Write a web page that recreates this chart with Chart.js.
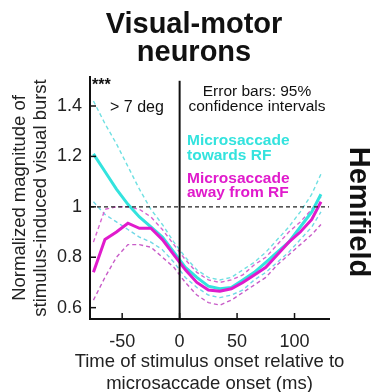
<!DOCTYPE html>
<html>
<head>
<meta charset="utf-8">
<script src="https://cdn.jsdelivr.net/npm/chart.js@4.4.1/dist/chart.umd.min.js"></script>
<style>
  html, body { margin: 0; padding: 0; background: #fff; }
</style>
</head>
<body>
<canvas id="burstChart" width="371" height="392"></canvas>
<script>
// waktu stimulus relatif terhadap onset microsaccade (ms)
const timeMs = [-75, -65, -55, -45, -35, -25, -15, -5, 5, 15, 25, 35, 45, 55, 65, 75, 85, 95, 105, 115, 123];

// microsaccade towards RF (cyan)
const towardsMean  = [1.21, 1.14, 1.07, 1.01, 0.96, 0.92, 0.88, 0.82, 0.76, 0.72, 0.685, 0.675, 0.68, 0.71, 0.74, 0.78, 0.82, 0.86, 0.92, 0.98, 1.05];
const towardsUpper = [1.42, 1.33, 1.25, 1.16, 1.07, 0.99, 0.93, 0.86, 0.80, 0.75, 0.72, 0.71, 0.72, 0.75, 0.78, 0.82, 0.87, 0.92, 0.98, 1.05, 1.13];
const towardsLower = [1.02, 0.97, 0.94, 0.91, 0.88, 0.86, 0.83, 0.78, 0.72, 0.68, 0.65, 0.64, 0.65, 0.67, 0.71, 0.74, 0.78, 0.82, 0.87, 0.92, 0.98];

// microsaccade away from RF (magenta)
const awayMean  = [0.74, 0.87, 0.90, 0.935, 0.915, 0.915, 0.87, 0.81, 0.75, 0.70, 0.67, 0.665, 0.675, 0.70, 0.73, 0.76, 0.81, 0.86, 0.90, 0.95, 1.02];
const awayUpper = [0.86, 0.99, 1.00, 1.00, 0.99, 0.96, 0.91, 0.85, 0.79, 0.74, 0.71, 0.70, 0.71, 0.73, 0.77, 0.80, 0.85, 0.90, 0.94, 0.99, 1.04];
const awayLower = [0.63, 0.72, 0.80, 0.85, 0.85, 0.84, 0.80, 0.76, 0.70, 0.65, 0.62, 0.61, 0.63, 0.66, 0.69, 0.72, 0.77, 0.81, 0.85, 0.89, 0.93];

// sumbu
const xRange = [-78, 130];
const yRange = [0.555, 1.515];
const xTicks = [-50, 0, 50, 100];
const yTicks = [0.6, 0.8, 1, 1.2, 1.4];
const referenceLevel = 1;
const zeroLineTop = 1.5;

const FONT = "'Liberation Sans', Arial, Helvetica, sans-serif";
Chart.defaults.font.family = FONT;
Chart.defaults.color = "#222";

function toPoints(values) {
  return timeMs.map((t, i) => ({ x: t, y: values[i] }));
}

function meanSet(label, values, color) {
  return {
    label: label,
    data: toPoints(values),
    borderColor: color,
    borderWidth: 3,
    pointRadius: 0,
    tension: 0,
    fill: false,
  };
}

function bandSet(label, values, color) {
  return {
    label: label,
    data: toPoints(values),
    borderColor: color,
    borderWidth: 1.4,
    borderDash: [4, 3],
    pointRadius: 0,
    tension: 0,
    fill: false,
  };
}

// teks tambahan dan tick ke dalam
const annotationsPlugin = {
  id: "annotations",
  afterDraw(chart) {
    const ctx = chart.ctx;
    const { left, right, bottom } = chart.chartArea;
    const xs = chart.scales.x;
    const ys = chart.scales.y;
    ctx.save();

    // tick marks ke dalam
    ctx.strokeStyle = "#111";
    ctx.lineWidth = 1.5;
    xs.ticks.forEach((t) => {
      const px = xs.getPixelForValue(t.value);
      ctx.beginPath();
      ctx.moveTo(px, bottom);
      ctx.lineTo(px, bottom - 6);
      ctx.stroke();
    });
    ys.ticks.forEach((t) => {
      const py = ys.getPixelForValue(t.value);
      ctx.beginPath();
      ctx.moveTo(left, py);
      ctx.lineTo(left + 6, py);
      ctx.stroke();
    });

    // judul sumbu x (digambar sendiri supaya tidak dipersempit)
    ctx.fillStyle = "#222";
    ctx.textAlign = "center";
    ctx.textBaseline = "alphabetic";
    ctx.font = "18.5px " + FONT;
    const cx = (left + right) / 2;
    ctx.fillText("Time of stimulus onset relative to", cx, 367);
    ctx.fillText("microsaccade onset (ms)", cx, 388.5);

    // judul
    ctx.fillStyle = "#111";
    ctx.font = "bold 29px " + FONT;
    ctx.fillText("Visual-motor", 194, 33);
    ctx.fillText("neurons", 194, 61);

    // Hemifield (diputar)
    ctx.save();
    ctx.translate(358, 212);
    ctx.rotate(Math.PI / 2);
    ctx.textBaseline = "middle";
    ctx.font = "bold 29px " + FONT;
    ctx.fillText("Hemifield", 0, 0);
    ctx.restore();

    // keterangan
    ctx.textAlign = "left";
    ctx.font = "bold 16px " + FONT;
    ctx.fillText("***", 92, 90);
    ctx.font = "16px " + FONT;
    ctx.fillText("> 7 deg", 110, 112);

    ctx.textAlign = "center";
    ctx.font = "15.5px " + FONT;
    ctx.fillText("Error bars: 95%", 257, 96);
    ctx.fillText("confidence intervals", 257, 111);

    ctx.textAlign = "left";
    ctx.font = "bold 15.5px " + FONT;
    ctx.fillStyle = "#33e3de";
    ctx.fillText("Microsaccade", 187, 145);
    ctx.fillText("towards RF", 187, 160);
    ctx.fillStyle = "#e01bcc";
    ctx.fillText("Microsaccade", 187, 183);
    ctx.fillText("away from RF", 187, 197);

    ctx.restore();
  },
};

const config = {
  type: "line",
  data: {
    datasets: [
      {
        label: "zero",
        data: [{ x: 0, y: yRange[0] }, { x: 0, y: zeroLineTop }],
        borderColor: "#111",
        borderWidth: 2,
        pointRadius: 0,
      },
      {
        label: "reference",
        data: [{ x: xRange[0], y: referenceLevel }, { x: xRange[1], y: referenceLevel }],
        borderColor: "#222",
        borderWidth: 1.2,
        borderDash: [4, 3],
        pointRadius: 0,
      },
      meanSet("Microsaccade away from RF", awayMean, "#e01bcc"),
      meanSet("Microsaccade towards RF", towardsMean, "#33e3de"),
      bandSet("away upper", awayUpper, "#d864d0"),
      bandSet("away lower", awayLower, "#c85cc8"),
      bandSet("towards upper", towardsUpper, "#70e0e2"),
      bandSet("towards lower", towardsLower, "#70d8e6"),
    ],
  },
  options: {
    responsive: false,
    animation: false,
    layout: {
      padding: { top: 77, right: 42, left: 0, bottom: 0 },
    },
    plugins: {
      legend: { display: false },
      title: { display: false },
      tooltip: { enabled: false },
    },
    scales: {
      x: {
        type: "linear",
        min: xRange[0],
        max: xRange[1],
        afterBuildTicks: (scale) => {
          scale.ticks = xTicks.map((v) => ({ value: v }));
        },
        afterFit: (scale) => {
          scale.height = 73;
        },
        grid: { display: false, drawTicks: false },
        border: { display: true, color: "#111", width: 2 },
        ticks: {
          padding: 12,
          color: "#222",
          font: { size: 18 },
          maxRotation: 0,
          callback: (v) => String(v),
        },
        title: { display: false },
      },
      y: {
        min: yRange[0],
        max: yRange[1],
        afterBuildTicks: (scale) => {
          scale.ticks = yTicks.map((v) => ({ value: v }));
        },
        afterFit: (scale) => {
          scale.width = 90;
        },
        grid: { display: false, drawTicks: false },
        border: { display: true, color: "#111", width: 2 },
        ticks: {
          padding: 8,
          color: "#222",
          font: { size: 18 },
          callback: (v) => String(v),
        },
        title: {
          display: true,
          text: ["Normalized magnitude of", "stimulus-induced visual burst"],
          color: "#222",
          font: { size: 18.5, lineHeight: 1.1 },
          padding: { top: 10, bottom: 0 },
        },
      },
    },
  },
  plugins: [annotationsPlugin],
};

const burstChart = new Chart(document.getElementById("burstChart"), config);
</script>
</body>
</html>
